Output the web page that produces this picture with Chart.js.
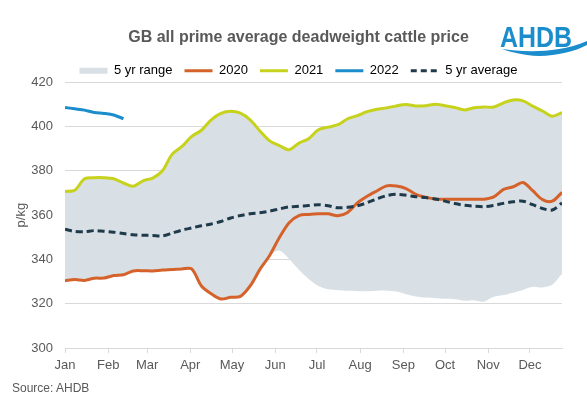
<!DOCTYPE html>
<html>
<head>
<meta charset="utf-8">
<script src="https://cdn.jsdelivr.net/npm/chart.js@4.4.1/dist/chart.umd.min.js"></script>
<style>
  body { margin: 0; background: #fff; }
  #wrap { position: relative; width: 587px; height: 417px; font-family: 'Liberation Sans', Arial, sans-serif; }
  #source { position: absolute; left: 12px; top: 381px; font-size: 12px; color: #595959; }
  #logo { position: absolute; left: 497px; top: 18px; }
</style>
</head>
<body>
<div id="wrap">
  <canvas id="chart" width="587" height="417"></canvas>
  <svg id="logo" width="90" height="45">
    <text x="39" y="29" text-anchor="middle" font-family="Liberation Sans, Arial" font-weight="bold" font-size="30" fill="#1b8dcc" textLength="72" lengthAdjust="spacingAndGlyphs">AHDB</text>
    <path d="M5 31 C 25 34, 60 36, 90 23 L 90 27 C 75 35, 50 40, 30 37 C 18 35, 10 33, 5 31 Z" fill="#1b8dcc"/>
  </svg>
  <div id="source">Source: AHDB</div>
</div>
<script>
// weekly points, x in days from start of year
const weekDay = [0, 7, 14, 21, 28, 35, 42, 49, 56, 63, 70, 77, 84, 91, 98, 105, 112, 119, 126, 133,
  140, 147, 154, 161, 168, 175, 182, 189, 196, 203, 210, 217, 224, 231, 238, 245, 252, 259, 266, 273,
  280, 287, 294, 301, 308, 315, 322, 329, 336, 343, 350, 357];

const monthDay = [0, 31, 59, 90, 120, 151, 181, 212, 243, 273, 304, 334];
const monthLabels = ['Jan', 'Feb', 'Mar', 'Apr', 'May', 'Jun', 'Jul', 'Aug', 'Sep', 'Oct', 'Nov', 'Dec'];

const y2020 = [330.4, 330.9, 330.5, 331.5, 331.6, 332.7, 333.1, 334.8, 334.9, 334.8,
  335.2, 335.4, 335.7, 335.7, 328.0, 324.5, 322.1, 322.9, 323.3, 328.0,
  335.5, 341.8, 349.9, 356.6, 359.8, 360.3, 360.6, 360.6, 359.7, 361.2,
  365.5, 368.5, 370.9, 373.2, 373.1, 372.0, 369.4, 368.1, 367.2, 367.2,
  367.2, 367.2, 367.2, 367.2, 368.2, 371.6, 372.8, 374.7, 371.0, 367.0,
  366.3, 370.3];

const y2021 = [370.7, 371.2, 376.4, 376.9, 376.9, 376.4, 374.5, 373.0, 375.5, 376.7,
  380.0, 387.5, 391.0, 395.5, 398.3, 403.0, 405.9, 406.9, 406.0, 403.0,
  398.0, 393.5, 391.4, 389.5, 392.5, 394.5, 398.5, 399.7, 400.8, 403.5,
  404.9, 406.7, 407.8, 408.4, 409.3, 409.9, 409.3, 409.4, 410.0, 409.4,
  408.6, 407.5, 408.5, 408.8, 408.8, 410.7, 412.0, 411.6, 409.2, 407.0,
  404.6, 406.3];

const y2022 = [408.6, 408.0, 407.4, 406.3, 405.9, 405.2, 403.5];

const avg5 = [353.6, 352.6, 352.5, 353.0, 352.7, 352.3, 351.7, 351.1, 350.9, 350.8,
  350.6, 351.9, 353.2, 354.2, 355.2, 356.0, 357.1, 358.7, 359.8, 360.6,
  361.1, 361.8, 362.8, 363.7, 364.0, 364.3, 364.7, 364.2, 363.3, 363.5,
  364.2, 365.6, 367.3, 368.8, 369.4, 369.0, 368.3, 367.9, 367.3, 366.3,
  365.2, 364.4, 364.0, 363.8, 364.4, 365.3, 366.0, 366.3, 364.7, 363.0,
  362.3, 365.5];

// 5 yr range: max and min of the five years
const rangeHigh = [370.7, 371.2, 376.4, 376.9, 376.9, 376.4, 374.5, 373.0, 375.5, 376.7,
  380.0, 387.5, 391.0, 395.5, 398.3, 403.0, 405.9, 406.9, 406.0, 403.0,
  398.0, 393.5, 391.4, 389.5, 392.5, 394.5, 398.5, 399.7, 400.8, 403.5,
  404.9, 406.7, 407.8, 408.4, 409.3, 409.9, 409.3, 409.4, 410.0, 409.4,
  408.6, 407.5, 408.5, 408.8, 408.8, 410.7, 412.0, 411.6, 409.2, 407.0,
  404.6, 406.3];

const rangeLow = [330.4, 330.9, 330.5, 331.5, 331.6, 332.7, 333.1, 334.8, 334.9, 334.8,
  335.2, 335.4, 335.7, 335.7, 328.0, 324.5, 322.1, 322.9, 323.3, 328.0,
  335.5, 341.8, 344.0, 340.2, 335.3, 331.2, 328.0, 326.5, 326.1, 325.8,
  325.6, 325.6, 325.9, 325.9, 325.5, 324.3, 323.3, 322.8, 322.5, 322.2,
  322.0, 321.3, 321.5, 320.9, 323.1, 323.9, 325.0, 326.2, 327.6, 327.3,
  328.5, 333.5];

const yTicks = [300, 320, 340, 360, 380, 400, 420];

const colRange = '#d8e0e5';
const col2020 = '#d5622a';
const col2021 = '#c6d21c';
const col2022 = '#1b8dcc';
const colAvg = '#1f3a4b';
const textCol = '#595959';
const font = "'Liberation Sans', Arial, sans-serif";

const LEGEND_DY = 5;

// nudge the legend down toward the plot, like the original
const legendShift = {
  id: 'legendShift',
  afterLayout(chart) {
    chart.legend.top += LEGEND_DY;
    chart.legend.bottom += LEGEND_DY;
  }
};

const lineDs = (label, data, color, extra) => Object.assign({
  label: label,
  data: data,
  borderColor: color,
  backgroundColor: color,
  borderWidth: 3,
  pointRadius: 0,
  tension: 0.3,
  fill: false
}, extra || {});

new Chart(document.getElementById('chart'), {
  type: 'line',
  data: {
    labels: weekDay,
    datasets: [
      lineDs('5 yr average', avg5, colAvg, { borderDash: [7, 4] }),
      lineDs('2022', y2022, col2022),
      lineDs('2021', y2021, col2021),
      lineDs('2020', y2020, col2020),
      lineDs('range max', rangeHigh, colRange, { borderWidth: 0, fill: '+1', backgroundColor: colRange }),
      lineDs('range min', rangeLow, colRange, { borderWidth: 0 })
    ]
  },
  options: {
    responsive: false,
    animation: false,
    layout: { padding: { left: 10, right: 0, top: 0, bottom: 0 } },
    plugins: {
      filler: { drawTime: 'beforeDatasetsDraw' },
      tooltip: { enabled: false },
      title: {
        display: true,
        text: 'GB all prime average deadweight cattle price',
        color: textCol,
        font: { family: font, size: 16, weight: 'bold', lineHeight: 1.2 },
        padding: { top: 28, bottom: 0 }
      },
      legend: {
        display: true,
        position: 'top',
        labels: {
          color: textCol,
          font: { family: font, size: 13 },
          usePointStyle: true,
          pointStyleWidth: 28,
          boxHeight: 6,
          padding: 12,
          generateLabels: () => [
            { text: '5 yr range', fillStyle: colRange, strokeStyle: colRange, lineWidth: 0, pointStyle: 'rect', hidden: false, datasetIndex: 4 },
            { text: '2020', fillStyle: col2020, strokeStyle: col2020, lineWidth: 3, pointStyle: 'line', hidden: false, datasetIndex: 3 },
            { text: '2021', fillStyle: col2021, strokeStyle: col2021, lineWidth: 3, pointStyle: 'line', hidden: false, datasetIndex: 2 },
            { text: '2022', fillStyle: col2022, strokeStyle: col2022, lineWidth: 3, pointStyle: 'line', hidden: false, datasetIndex: 1 },
            { text: '5 yr average', fillStyle: colAvg, strokeStyle: colAvg, lineWidth: 3, lineDash: [6, 4], pointStyle: 'line', hidden: false, datasetIndex: 0 }
          ]
        }
      }
    },
    scales: {
      x: {
        type: 'linear',
        min: 0,
        max: 357,
        afterBuildTicks: (scale) => { scale.ticks = monthDay.map(v => ({ value: v })); },
        afterFit: (scale) => { scale.height = 69; },
        ticks: {
          autoSkip: false,
          maxRotation: 0,
          padding: 5,
          color: textCol,
          font: { family: font, size: 13 },
          callback: (value, index) => monthLabels[index]
        },
        grid: { drawOnChartArea: false, drawTicks: true, tickLength: 5, color: '#d9d9d9' },
        border: { display: true, color: '#d9d9d9' }
      },
      y: {
        min: 300,
        max: 420,
        afterBuildTicks: (scale) => { scale.ticks = yTicks.map(v => ({ value: v })); },
        afterFit: (scale) => { scale.width = 55; },
        ticks: { padding: 12, color: textCol, font: { family: font, size: 13 } },
        grid: { color: '#d9d9d9', drawTicks: false },
        border: { display: false },
        title: { display: true, text: 'p/kg', color: textCol, font: { family: font, size: 13 }, padding: { top: 4, bottom: 0 } }
      },
      yR: {
        position: 'right',
        display: true,
        grid: { display: false },
        border: { display: false },
        ticks: { display: false },
        afterFit: (scale) => { scale.width = 25; }
      }
    }
  },
  plugins: [legendShift]
});
</script>
</body>
</html>
